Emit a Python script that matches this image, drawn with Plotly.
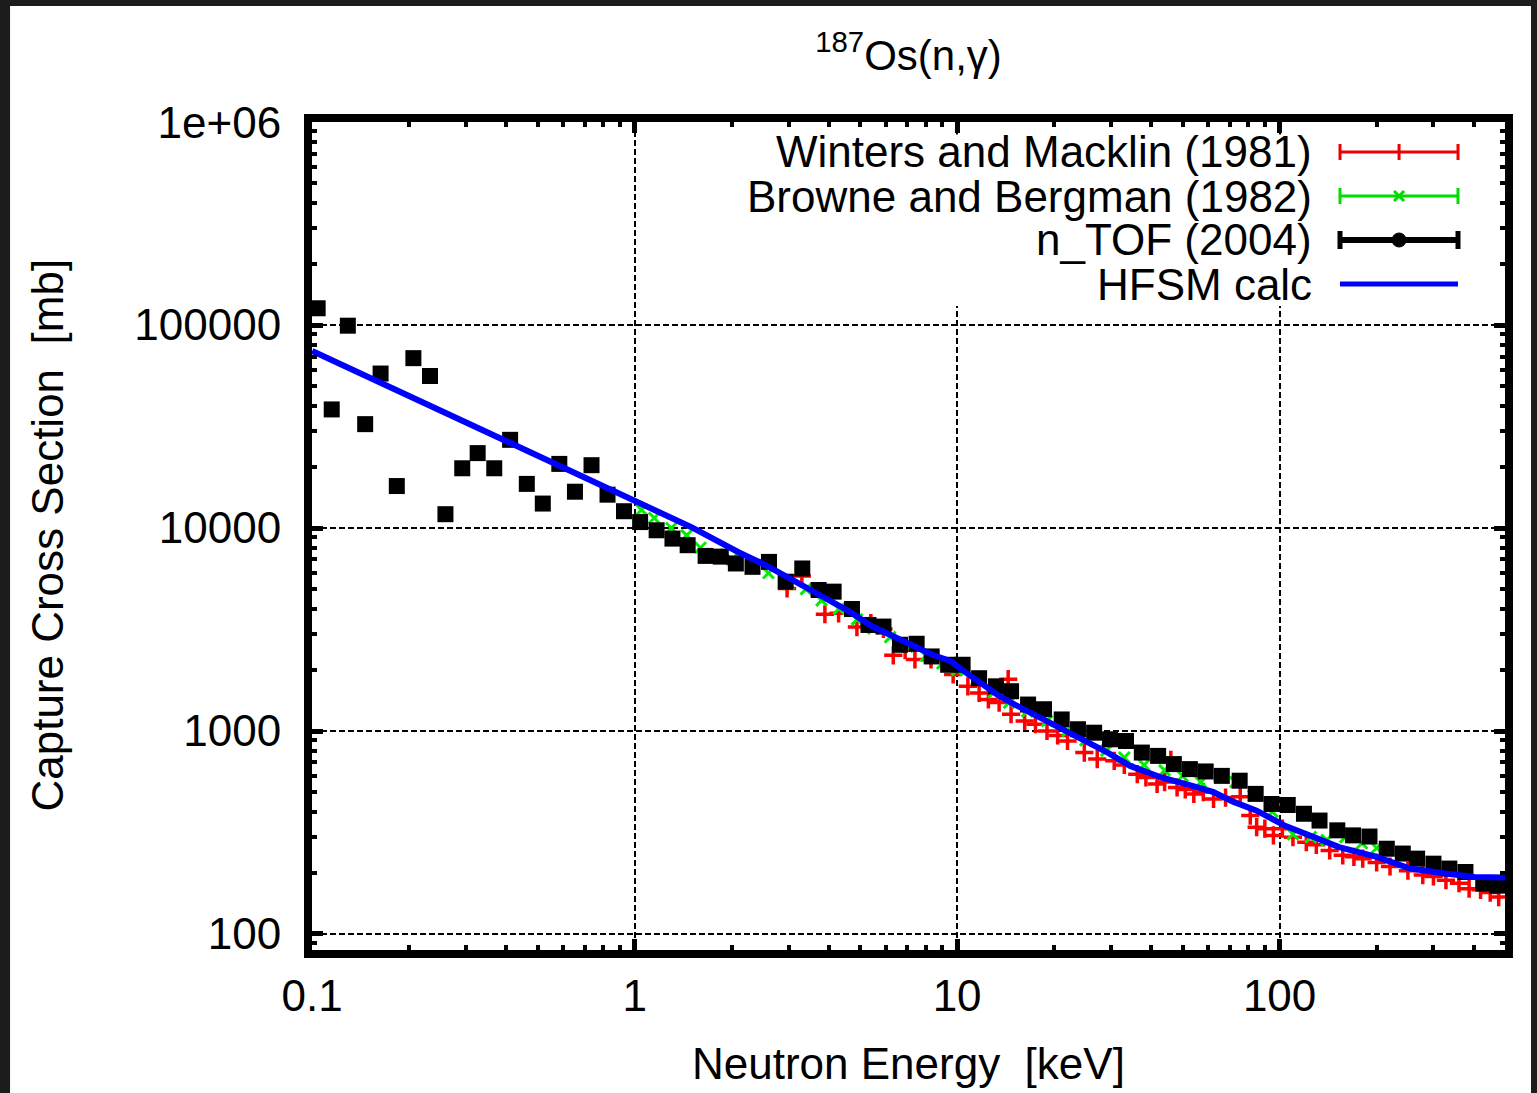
import plotly.graph_objects as go

# ---------------- data ----------------
ntof_e = [0.104, 0.115, 0.129, 0.146, 0.163, 0.183, 0.206, 0.232, 0.259, 0.292,
          0.326, 0.367, 0.411, 0.463, 0.519, 0.584, 0.653, 0.735, 0.824, 0.927,
          1.04, 1.17, 1.31, 1.46, 1.66, 1.85, 2.06, 2.32, 2.61, 2.94,
          3.31, 3.72, 4.14, 4.72, 5.31, 5.91, 6.65, 7.49, 8.34, 9.38,
          10.4, 11.7, 13.2, 14.7, 16.6, 18.6, 21.1, 23.7, 26.6, 29.8,
          33.4, 37.4, 42.0, 47.0, 52.7, 59.0, 66.2, 75.2, 84.3, 94.4,
          106, 119, 133, 151, 169, 190, 215, 241, 267, 300,
          336, 377, 428, 473]
ntof_cs = [121000, 38400, 99300, 32500, 57700, 16100, 68700, 56100, 11700, 19700,
           23400, 19700, 27200, 16500, 13200, 20700, 15100, 20400, 14600, 12100,
           10700, 9750, 8870, 8230, 7290, 7230, 6690, 6440, 6810, 5440,
           6320, 4950, 4860, 3990, 3330, 3270, 2660, 2690, 2330, 2120,
           2120, 1820, 1660, 1570, 1350, 1280, 1140, 1020, 981, 910,
           893, 783, 754, 687, 649, 632, 601, 569, 490, 437,
           432, 391, 362, 324, 306, 302, 263, 249, 235, 222,
           210, 202, 177, 173]

wm_e = [2.97, 3.3, 3.89, 4.29, 4.89, 5.4, 5.91, 6.34, 6.9, 7.4,
        8.3, 9.72, 10.8, 11.7, 12.5, 13.5, 14.4, 14.7, 16.2, 17.5,
        19.0, 20.5, 22.0, 24.8, 27.2, 30.7, 33.0, 36.2, 38.5, 41.7,
        44.0, 46.0, 48.1, 51.0, 54.2, 58.0, 62.4, 68.0, 75.5, 81.1,
        84.9, 90.0, 95.7, 102, 110, 121, 130, 143, 157, 170,
        181, 200, 220, 250, 278, 300, 328, 360, 387, 420, 450, 478]
wm_cs = [5040, 5800, 3760, 3800, 3250, 3400, 3180, 2360, 2500, 2250,
         2250, 1900, 1660, 1540, 1430, 1380, 1800, 1210, 1120, 1080,
         1000, 950, 893, 783, 727, 713, 680, 613, 590, 548,
         560, 720, 527, 515, 490, 500, 463, 470, 474, 383,
         336, 330, 306, 330, 300, 283, 275, 258, 244, 240,
         235, 225, 215, 205, 195, 192, 184, 178, 167, 165, 160, 152]

bb_e = [1.05, 1.15, 1.3, 1.45, 1.6, 1.8, 2.0, 2.3, 2.6, 3.0,
        3.4, 3.8, 4.3, 4.9, 5.5, 6.2, 7.0, 8.0, 9.0, 10.0,
        11.5, 13.0, 14.5, 16.5, 19.0, 22, 25, 29, 33, 38,
        44, 50, 57, 65, 73, 83, 95, 110, 125, 140, 160, 180, 200]
bb_cs = [12300, 11200, 10000, 9200, 8000, 7400, 7000, 6400, 6000, 5300,
         5000, 4400, 4000, 3550, 3200, 2900, 2600, 2350, 2150, 2000,
         1800, 1550, 1380, 1250, 1120, 1000, 900, 800, 740, 680,
         640, 600, 560, 600, 560, 480, 400, 310, 300, 290, 300, 280, 265]

hf_e = [0.1, 0.2, 0.5, 1.0, 1.5, 2.1, 2.55, 4.61, 5.41, 8.34,
        9.6, 10.6, 13.4, 15.1, 19.0, 29.4, 34.4, 43.0, 55.0, 62.4,
        71.4, 84.9, 104.5, 125, 153, 200, 254, 322, 402, 500]
hf_cs = [74600, 44900, 22900, 13700, 10100, 7600, 6560, 3900, 3300, 2380,
         2200, 1950, 1500, 1350, 1120, 780, 673, 590, 530, 500,
         450, 405, 340, 306, 268, 240, 210, 199, 191, 190]

x_ticks = [0.1, 1, 10, 100]
x_ticktext = ["0.1", "1", "10", "100"]
y_ticks = [100, 1000, 10000, 100000, 1000000]
y_ticktext = ["100", "1000", "10000", "100000", "1e+06"]

series_names = ["Winters and Macklin (1981)", "Browne and Bergman (1982)",
                "n_TOF (2004)", "HFSM calc"]

# ---------------- figure ----------------
FONT = "Liberation Sans, Arial, sans-serif"
fig = go.Figure()

fig.add_trace(go.Scatter(x=wm_e, y=wm_cs, mode="markers", name=series_names[0],
                         marker=dict(symbol="cross-thin", size=13, color="#ff0000",
                                     line=dict(color="#ff0000", width=3.5)),
                         showlegend=False))
fig.add_trace(go.Scatter(x=bb_e, y=bb_cs, mode="markers", name=series_names[1],
                         marker=dict(symbol="x-thin", size=11, color="#00ee00",
                                     line=dict(color="#00ee00", width=3)),
                         showlegend=False))
fig.add_trace(go.Scatter(x=ntof_e, y=ntof_cs, mode="markers", name=series_names[2],
                         marker=dict(symbol="square", size=16, color="black",
                                     line=dict(width=0)),
                         showlegend=False))
fig.add_trace(go.Scatter(x=hf_e, y=hf_cs, mode="lines", name=series_names[3],
                         line=dict(color="#0000ff", width=6),
                         showlegend=False))

# ---------------- key (opaque box + samples, in paper coordinates) ----------------
PW, PH = 1193.0, 828.0          # plot-area size in px
kx0, kx1, kxc = 0.8617, 0.9606, 0.9112
key_y = [0.9638, 0.9106, 0.8575, 0.8043]
cap = 8 / PH

shapes = [
    dict(type="rect", xref="paper", yref="paper", x0=-0.2531, x1=1.0218,
         y0=-0.19, y1=1.1401, fillcolor="white", line=dict(width=0), layer="below"),
    dict(type="rect", xref="paper", yref="paper", x0=0.3588, x1=0.9707,
         y0=0.7778, y1=0.985, fillcolor="white", line=dict(width=0), layer="above"),
]


def seg(x0, y0, x1, y1, color, width):
    shapes.append(dict(type="line", xref="paper", yref="paper", x0=x0, y0=y0,
                       x1=x1, y1=y1, line=dict(color=color, width=width),
                       layer="above"))


for col, yy, w, c in [("#ee0000", key_y[0], 3, cap), ("#00dd00", key_y[1], 3, cap),
                      ("black", key_y[2], 6, 9 / PH)]:
    seg(kx0, yy, kx1, yy, col, w)
    seg(kx0, yy - c, kx0, yy + c, col, max(w - 1, 3))
    seg(kx1, yy - c, kx1, yy + c, col, max(w - 1, 3))
seg(kxc, key_y[0] - cap, kxc, key_y[0] + cap, "#ee0000", 3)
dx, dy = 5 / PW, 5 / PH
seg(kxc - dx, key_y[1] - dy, kxc + dx, key_y[1] + dy, "#00dd00", 3)
seg(kxc - dx, key_y[1] + dy, kxc + dx, key_y[1] - dy, "#00dd00", 3)
shapes.append(dict(type="circle", xref="paper", yref="paper",
                   x0=kxc - 7 / PW, x1=kxc + 7 / PW, y0=key_y[2] - 7 / PH,
                   y1=key_y[2] + 7 / PH, fillcolor="black",
                   line=dict(color="black", width=1), layer="above"))
seg(kx0, key_y[3], kx1, key_y[3], "#0000ff", 5)

annotations = []
for i in range(4):
    annotations.append(dict(text=series_names[i], xref="paper", yref="paper",
                            x=0.8399, y=key_y[i], xanchor="right", yanchor="middle",
                            showarrow=False, font=dict(size=44, color="black", family=FONT)))
annotations.append(dict(text="Capture Cross Section\u00a0 [mb]", xref="paper", yref="paper",
                        x=-0.2225, y=0.5012, textangle=-90, xanchor="center", yanchor="middle",
                        showarrow=False, font=dict(size=44, color="black", family=FONT)))
annotations.append(dict(text="Neutron Energy\u00a0 [keV]", xref="paper", yref="paper",
                        x=0.5004, y=-0.1365, xanchor="center", yanchor="middle",
                        showarrow=False, font=dict(size=44, color="black", family=FONT)))

minor_vals = [m * 10 ** k for k in range(-1, 3) for m in range(2, 10)]
minor_yvals = [m * 10 ** k for k in range(1, 6) for m in range(2, 10)]

axis_common = dict(
    showline=True, linewidth=8, linecolor="black", mirror="allticks",
    ticks="inside", ticklen=11, tickwidth=5, tickcolor="black",
    showgrid=True, gridcolor="black", gridwidth=1.5, griddash="6px,3px",
    zeroline=False, tickfont=dict(size=44, color="black", family=FONT),
)

fig.update_layout(
    width=1537, height=1093,
    margin=dict(l=312, r=32, t=122, b=143),
    paper_bgcolor="#1c1c1c", plot_bgcolor="white",
    font=dict(family=FONT, color="black"),
    title=dict(text="<sup>187</sup>Os(n,γ)", x=0.5, xref="paper", xanchor="center",
               y=1 - 55 / 1093, yref="container", yanchor="middle",
               font=dict(size=42, color="black", family=FONT)),
    xaxis=dict(type="log", range=[-1.0005, 2.699], tickmode="array",
               tickvals=x_ticks, ticktext=x_ticktext,
               minor=dict(tickmode="array", tickvals=minor_vals, ticks="inside",
                          ticklen=5, tickwidth=4, tickcolor="black", showgrid=False),
               **axis_common),
    yaxis=dict(type="log", range=[1.921, 6.0005], tickmode="array",
               tickvals=y_ticks, ticktext=y_ticktext, ticklabelstandoff=14,
               minor=dict(tickmode="array", tickvals=minor_yvals, ticks="inside",
                          ticklen=5, tickwidth=4, tickcolor="black", showgrid=False),
               **axis_common),
    shapes=shapes,
    annotations=annotations,
)

fig.write_html("out.html")
